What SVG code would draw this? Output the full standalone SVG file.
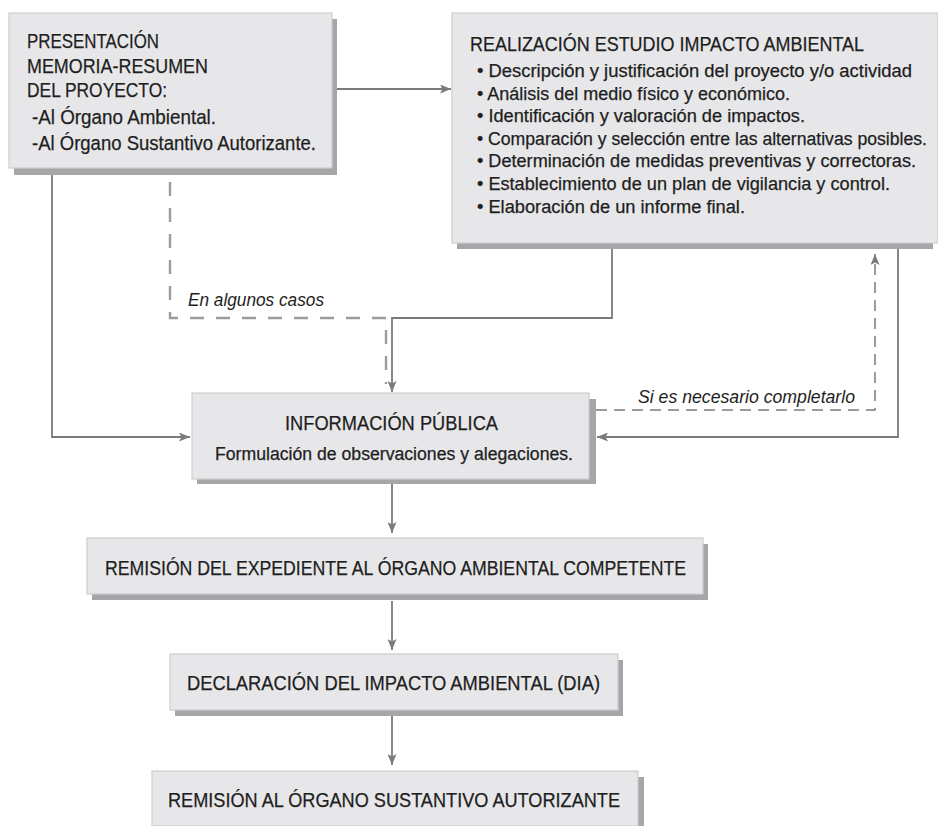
<svg xmlns="http://www.w3.org/2000/svg" width="938" height="826" viewBox="0 0 938 826">
<style>
.box{fill:#e7e7e9;stroke:#cdcdcf;stroke-width:1.2}
.sh{fill:#a6a6a8}
.t{font-family:"Liberation Sans Narrow","Liberation Sans",Arial,sans-serif;fill:#1e1e1e;stroke:#1e1e1e;stroke-width:0.25}
.cap{font-size:20.5px}
.b{font-size:18px}
.it{font-family:"Liberation Sans","Liberation Sans Narrow",Arial,sans-serif;font-size:18px;font-style:italic;fill:#1e1e1e}
.ln{fill:none;stroke:#7b7b7d;stroke-width:1.8}
.dl{fill:none;stroke:#9c9c9e;stroke-width:2.4;stroke-dasharray:14 12}
.dr{fill:none;stroke:#7b7b7d;stroke-width:1.5;stroke-dasharray:11 7}
</style>
<defs>
<marker id="ah" viewBox="0 0 11 9" markerWidth="11" markerHeight="9" refX="11" refY="4.5" orient="auto" markerUnits="userSpaceOnUse">
<path d="M0,0 L11,4.5 L0,9 L2.5,4.5 Z" fill="#7b7b7d"/>
</marker>
</defs>
<rect width="938" height="826" fill="#ffffff"/>

<g id="connectors">
<path class="ln" d="M337,89 H451" marker-end="url(#ah)"/>
<path class="ln" d="M52,175 V437 H190" marker-end="url(#ah)"/>
<path class="dl" d="M170,182 V318 H386 V384"/>
<path class="ln" d="M612,248 V318 H392 V392" marker-end="url(#ah)"/>
<path class="ln" d="M898,248 V437 H597" marker-end="url(#ah)"/>
<path class="dr" d="M596,410 H875 V254" marker-end="url(#ah)"/>
<path class="ln" d="M392,484 V533" marker-end="url(#ah)"/>
<path class="ln" d="M392,601 V650" marker-end="url(#ah)"/>
<path class="ln" d="M392,716 V765" marker-end="url(#ah)"/>
<text class="it" x="188" y="306" textLength="136" lengthAdjust="spacingAndGlyphs">En algunos casos</text>
<text class="it" x="638" y="403" textLength="217" lengthAdjust="spacingAndGlyphs">Si es necesario completarlo</text>
</g>

<g id="presentacion">
<rect class="sh" x="14" y="19" width="323" height="156"/>
<rect class="box" x="9" y="13" width="323" height="155"/>
<text class="t cap" x="27" y="47.5" textLength="132" lengthAdjust="spacingAndGlyphs">PRESENTACIÓN</text>
<text class="t cap" x="27" y="72.5" textLength="181" lengthAdjust="spacingAndGlyphs">MEMORIA-RESUMEN</text>
<text class="t cap" x="27" y="97" textLength="140" lengthAdjust="spacingAndGlyphs">DEL PROYECTO:</text>
<text class="t cap" x="32" y="124" textLength="184" lengthAdjust="spacingAndGlyphs">-Al Órgano Ambiental.</text>
<text class="t cap" x="32" y="149.5" textLength="284" lengthAdjust="spacingAndGlyphs">-Al Órgano Sustantivo Autorizante.</text>
</g>

<g id="estudio">
<rect class="sh" x="457" y="19" width="476" height="230"/>
<rect class="box" x="452" y="13" width="486" height="230"/>
<text class="t cap" x="470" y="51" textLength="394" lengthAdjust="spacingAndGlyphs">REALIZACIÓN ESTUDIO IMPACTO AMBIENTAL</text>
<text class="t b" x="477" y="77" textLength="435" lengthAdjust="spacingAndGlyphs">• Descripción y justificación del proyecto y/o actividad</text>
<text class="t b" x="477" y="100" textLength="313" lengthAdjust="spacingAndGlyphs">• Análisis del medio físico y económico.</text>
<text class="t b" x="477" y="122" textLength="328" lengthAdjust="spacingAndGlyphs">• Identificación y valoración de impactos.</text>
<text class="t b" x="477" y="145" textLength="450" lengthAdjust="spacingAndGlyphs" font-size="17">• Comparación y selección entre las alternativas posibles.</text>
<text class="t b" x="477" y="167" textLength="439" lengthAdjust="spacingAndGlyphs">• Determinación de medidas preventivas y correctoras.</text>
<text class="t b" x="477" y="190" textLength="413" lengthAdjust="spacingAndGlyphs">• Establecimiento de un plan de vigilancia y control.</text>
<text class="t b" x="477" y="213" textLength="268" lengthAdjust="spacingAndGlyphs">• Elaboración de un informe final.</text>
</g>

<g id="informacion">
<rect class="sh" x="197" y="399" width="399" height="85"/>
<rect class="box" x="192" y="393" width="397" height="86"/>
<text class="t cap" x="285" y="430" textLength="213" lengthAdjust="spacingAndGlyphs">INFORMACIÓN PÚBLICA</text>
<text class="t b" x="215" y="460" textLength="358" lengthAdjust="spacingAndGlyphs">Formulación de observaciones y alegaciones.</text>
</g>

<g id="remision-expediente">
<rect class="sh" x="92" y="544" width="616" height="56"/>
<rect class="box" x="87" y="538" width="616" height="56"/>
<text class="t cap" x="105" y="575" textLength="581" lengthAdjust="spacingAndGlyphs">REMISIÓN DEL EXPEDIENTE AL ÓRGANO AMBIENTAL COMPETENTE</text>
</g>

<g id="declaracion">
<rect class="sh" x="175" y="660" width="448" height="56"/>
<rect class="box" x="170" y="654" width="448" height="56"/>
<text class="t cap" x="187" y="690" textLength="413" lengthAdjust="spacingAndGlyphs">DECLARACIÓN DEL IMPACTO AMBIENTAL (DIA)</text>
</g>

<g id="remision-organo">
<rect class="sh" x="157" y="777" width="487" height="49"/>
<rect class="box" x="152" y="771" width="486" height="55"/>
<text class="t cap" x="168" y="807" textLength="452" lengthAdjust="spacingAndGlyphs">REMISIÓN AL ÓRGANO SUSTANTIVO AUTORIZANTE</text>
</g>
</svg>
